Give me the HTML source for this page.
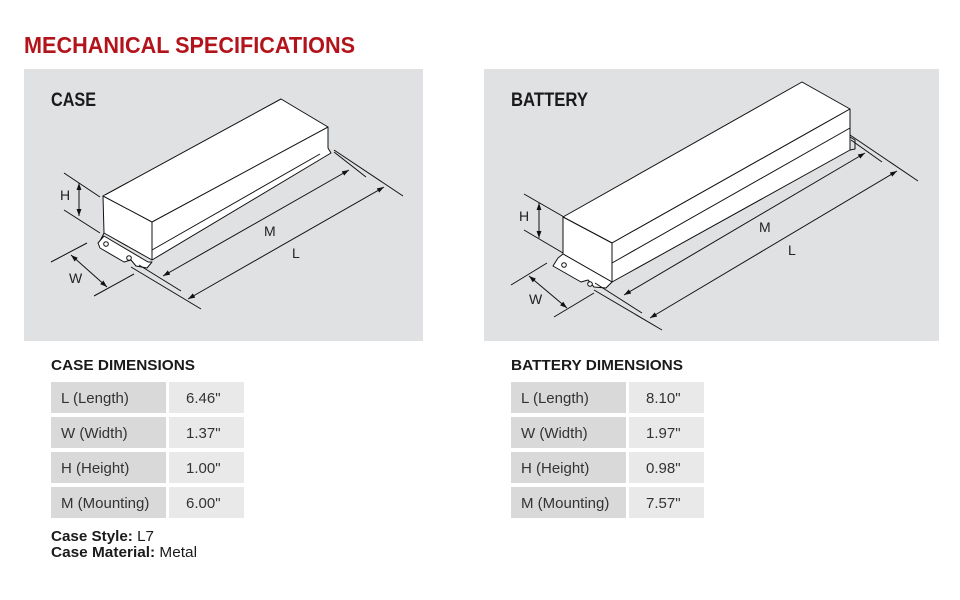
<!DOCTYPE html>
<html><head><meta charset="utf-8"><style>
body{margin:0;background:#fff;}
svg{display:block;font-family:"Liberation Sans",sans-serif;}
</style></head><body>
<svg width="960" height="600" viewBox="0 0 960 600">
<defs>
<marker id="a" viewBox="0 0 10 10" refX="10" refY="5" markerWidth="7" markerHeight="7" orient="auto-start-reverse"><path d="M0,1.5 L10,5 L0,8.5 z" fill="#111"/></marker>
</defs>
<text x="24" y="53" font-size="23" font-weight="bold" fill="#b3141c" textLength="331" lengthAdjust="spacingAndGlyphs">MECHANICAL SPECIFICATIONS</text>
<rect x="24" y="69" width="399" height="272" fill="#e0e1e3"/>
<rect x="484" y="69" width="455" height="272" fill="#e0e1e3"/>
<text x="51" y="106" font-size="19" font-weight="bold" fill="#1a1a1a" textLength="45" lengthAdjust="spacingAndGlyphs">CASE</text>
<text x="511" y="106" font-size="19" font-weight="bold" fill="#1a1a1a" textLength="77" lengthAdjust="spacingAndGlyphs">BATTERY</text>

<g stroke="#111" stroke-width="1" fill="#fff" stroke-linejoin="round">
<path d="M100,241 L104,233 L152,260 L331,153 L328,148 L328,127 L281,99 L103,196 L104,233"/>
<path d="M98,243 L104,236 L148,262 L152,262 L147,268 L136,266 L131,260 L124,262 L100,248 Z"/>
<path d="M103,196 L152,222 L328,127 M152,222 L152,260 M152,250 L320,154"/>
<circle cx="106" cy="244" r="2.3"/><circle cx="129" cy="258" r="2.3"/>
<path d="M563,217 L802,82 L850,109 L612,243 Z"/>
<path d="M563,217 L612,243 L612,282 L563,254 Z"/>
<path d="M612,243 L850,109 L850,150 L612,282 Z"/>
<path d="M612,263 L850,128" fill="none"/>
<path d="M850,137 L855,140 L855,149 L850,150" fill="none"/>
<path d="M558,258 L563,254 L612,282 L606,288 L594,287 L588,280 L581,282 L553,266 Z"/>
<circle cx="564" cy="265" r="2.3"/><circle cx="590" cy="284" r="2.3"/>
</g>

<g stroke="#111" stroke-width="1" fill="none">
<path d="M64,173 L100,197 M64,210 L100,233"/>
<path d="M79,183 L79,216" marker-start="url(#a)" marker-end="url(#a)"/>
<path d="M51,262 L87,243 M94,296 L134,274"/>
<path d="M71,255 L107,287" marker-start="url(#a)" marker-end="url(#a)"/>
<path d="M139,265 L181,291 M334,152 L366,177"/>
<path d="M163,276 L349,170" marker-start="url(#a)" marker-end="url(#a)"/>
<path d="M131,267 L201,309 M334,150 L403,196"/>
<path d="M188,299 L384,187" marker-start="url(#a)" marker-end="url(#a)"/>
<path d="M524,194 L564,217 M524,230 L563,253"/>
<path d="M539,203 L539,238" marker-start="url(#a)" marker-end="url(#a)"/>
<path d="M511,285 L547,263 M554,317 L594,293"/>
<path d="M529,276 L567,308" marker-start="url(#a)" marker-end="url(#a)"/>
<path d="M595,283 L642,313 M851,140 L882,162"/>
<path d="M624,295 L865,153" marker-start="url(#a)" marker-end="url(#a)"/>
<path d="M594,290 L662,330 M850,135 L918,181"/>
<path d="M650,318 L897,171" marker-start="url(#a)" marker-end="url(#a)"/>
</g>
<g font-size="14" fill="#222">
<text x="60" y="200">H</text><text x="69" y="283">W</text>
<text x="264" y="236">M</text><text x="292" y="258">L</text>
<text x="519" y="221">H</text><text x="529" y="304">W</text>
<text x="759" y="232">M</text><text x="788" y="255">L</text>
</g>

<text x="51" y="370" font-size="15" font-weight="bold" fill="#1a1a1a" textLength="144" lengthAdjust="spacingAndGlyphs">CASE DIMENSIONS</text>
<text x="511" y="370" font-size="15" font-weight="bold" fill="#1a1a1a" textLength="172" lengthAdjust="spacingAndGlyphs">BATTERY DIMENSIONS</text>

<g fill="#d9d9da">
<rect x="51" y="382" width="115" height="31"/><rect x="51" y="417" width="115" height="31"/><rect x="51" y="452" width="115" height="31"/><rect x="51" y="487" width="115" height="31"/>
<rect x="511" y="382" width="115" height="31"/><rect x="511" y="417" width="115" height="31"/><rect x="511" y="452" width="115" height="31"/><rect x="511" y="487" width="115" height="31"/>
</g>
<g fill="#e9e9ea">
<rect x="169" y="382" width="75" height="31"/><rect x="169" y="417" width="75" height="31"/><rect x="169" y="452" width="75" height="31"/><rect x="169" y="487" width="75" height="31"/>
<rect x="629" y="382" width="75" height="31"/><rect x="629" y="417" width="75" height="31"/><rect x="629" y="452" width="75" height="31"/><rect x="629" y="487" width="75" height="31"/>
</g>
<g font-size="15" fill="#333">
<text x="61" y="403">L (Length)</text><text x="61" y="438">W (Width)</text><text x="61" y="473">H (Height)</text><text x="61" y="508">M (Mounting)</text>
<text x="186" y="403">6.46"</text><text x="186" y="438">1.37"</text><text x="186" y="473">1.00"</text><text x="186" y="508">6.00"</text>
<text x="521" y="403">L (Length)</text><text x="521" y="438">W (Width)</text><text x="521" y="473">H (Height)</text><text x="521" y="508">M (Mounting)</text>
<text x="646" y="403">8.10"</text><text x="646" y="438">1.97"</text><text x="646" y="473">0.98"</text><text x="646" y="508">7.57"</text>
</g>
<g font-size="14.5" fill="#1a1a1a">
<text x="51" y="541" textLength="103" lengthAdjust="spacingAndGlyphs"><tspan font-weight="bold">Case Style:</tspan> L7</text>
<text x="51" y="557" textLength="146" lengthAdjust="spacingAndGlyphs"><tspan font-weight="bold">Case Material:</tspan> Metal</text>
</g>
</svg>
</body></html>
